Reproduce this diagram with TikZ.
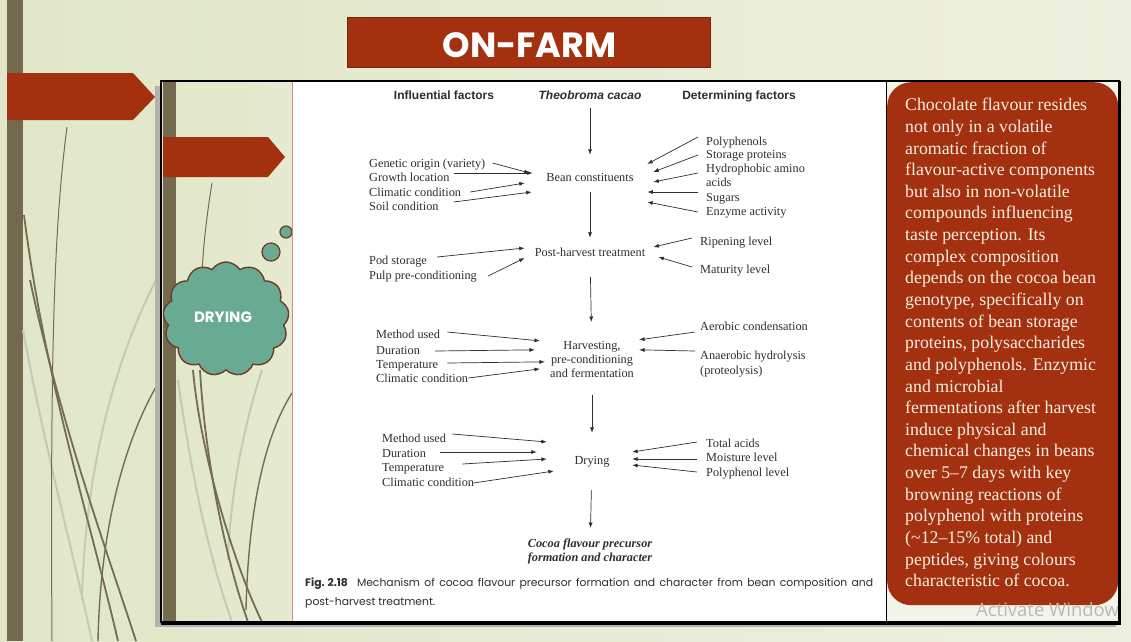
\documentclass[tikz,border=0pt]{standalone}
\usepackage{fontspec}
\setmainfont{Liberation Serif}
\newfontfamily\arialf{Liberation Sans}
\newfontfamily\popf{Poppins}
\newfontfamily\osf{Open Sans}
\usetikzlibrary{arrows.meta,shapes.symbols,calc}
\definecolor{bgA}{HTML}{E1E7C8}
\definecolor{bgB}{HTML}{EEF0DF}
\definecolor{olive}{HTML}{736A4E}
\definecolor{rust}{HTML}{A3310F}
\definecolor{tealc}{HTML}{68AA92}
\definecolor{cloudedge}{HTML}{6E3A2A}
\definecolor{cream}{HTML}{F7EEE2}
\definecolor{figgray}{HTML}{2E2E2E}
\definecolor{grassc}{HTML}{756D52}
\definecolor{grasslight}{HTML}{C5CBB0}
\definecolor{pinkline}{HTML}{D08C80}
\begin{document}
\begin{tikzpicture}[x=1pt,y=-1pt,
  ftxt/.style={font=\fontsize{12.3}{14}\selectfont, text=figgray, inner sep=0, text height=9, text depth=3},
  fmulti/.style={font=\fontsize{12.3}{14}\selectfont, text=figgray, inner sep=0, align=center},
  fhead/.style={font=\arialf\bfseries\fontsize{12}{14}\selectfont, text=figgray, inner sep=0, text height=9, text depth=3},
  arr/.style={draw=figgray, line width=0.7, -{Latex[length=5.5pt,width=4pt]}},
  grass/.style={draw=grassc, line width=1.8},
  grassthin/.style={draw=grassc, line width=1},
  grasspale/.style={draw=grasslight, line width=2}]
\useasboundingbox (0,0) rectangle (1131,641);
% slide background
\shade[left color=bgA, right color=bgB] (0,0) rectangle (1131,641);
\fill[olive] (7,0) rectangle (23,641);
% outer grass
\draw[grasspale] (23,330) .. controls (45,450) and (75,560) .. (92,641);
\draw[grasspale] (156,280) .. controls (110,370) and (85,480) .. (82,600);
\draw[grassthin] (67,127) .. controls (55,220) and (50,330) .. (52,641);
\draw[grass] (24,215) .. controls (45,380) and (90,520) .. (118,641);
\draw[grass] (30,280) .. controls (62,430) and (110,560) .. (136,641);
\draw[grass, line width=1.4] (157,385) .. controls (120,450) and (100,540) .. (98,641);
% big red arrow
\fill[rust] (7,73) -- (133,73) -- (155,97) -- (133,120) -- (7,120) -- cycle;
% title
\node[fill=rust, draw=rust!75!black, line width=0.8, minimum width=363, minimum height=50, inner sep=0] (title) at (528.5,42) {};
\node[text=white, font=\popf\bfseries\fontsize{35}{35}\selectfont, inner sep=0] (titletext) at (529.5,45) {ON-FARM};
% frame shadow
\fill[black!30] (155,86) rectangle (1116,627);
% inner left strip
\shade[left color=bgA, right color=bgA!60!bgB] (161,81) rectangle (292,622);
\fill[olive] (163,81) rectangle (176,622);
\begin{scope}
\clip (161,81) rectangle (292,622);
\draw[grasspale] (178,380) .. controls (192,480) and (210,560) .. (232,622);
\draw[grasspale] (262,370) .. controls (242,430) and (230,500) .. (228,560);
\draw[grassthin] (212,183) .. controls (206,220) and (203,250) .. (202,275);
\draw[grass] (193,370) .. controls (200,450) and (232,560) .. (262,622);
\draw[grass] (200,370) .. controls (205,460) and (226,560) .. (248,622);
\draw[grass, line width=1.4] (292,393) .. controls (262,440) and (248,520) .. (246,610);
\end{scope}
% second red arrow
\fill[rust] (163,137) -- (268,137) -- (285,157) -- (268,177) -- (163,177) -- cycle;
% cloud
\node[cloud, cloud puffs=13, cloud puff arc=115, aspect=1.1, fill=tealc, draw=cloudedge, line width=1.4, minimum width=126, minimum height=114, inner sep=0] (cloud) at (226,319) {};
\draw[fill=tealc, draw=cloudedge, line width=1.2] (271,252) circle (9);
\draw[fill=tealc, draw=cloudedge, line width=1.2] (286,232) circle (6);
\node[text=white, font=\popf\bfseries\fontsize{15}{15}\selectfont, inner sep=0] (drylabel) at (223,317) {DRYING};
% figure area
\fill[white] (292,81) rectangle (886,622);
\draw[pinkline, line width=0.8] (292,81) -- (292,622);
\fill[bgB!70!white] (886,81) rectangle (1118,622);
\draw[black, line width=0.8] (886,81) -- (886,622);
% right text box
\node[fill=rust, rounded corners=24, minimum width=231, minimum height=523, anchor=north west, inner sep=0] (txtbox) at (887,82) {};
\node[anchor=north west, inner sep=0, text=cream, align=left, font=\fontsize{17.8}{21.64}\selectfont] (boxtext) at (905,98) {Chocolate flavour resides\\
not only in a volatile\\
aromatic fraction of\\
flavour-active components\\
but also in non-volatile\\
compounds influencing\\
taste perception. Its\\
complex composition\\
depends on the cocoa bean\\
genotype, specifically on\\
contents of bean storage\\
proteins, polysaccharides\\
and polyphenols. Enzymic\\
and microbial\\
fermentations after harvest\\
induce physical and\\
chemical changes in beans\\
over 5–7 days with key\\
browning reactions of\\
polyphenol with proteins\\
(\symbol{126}{}12–15\% total) and\\
peptides, giving colours\\
characteristic of cocoa.};
\begin{scope}
\clip (886,81) rectangle (1117,622);
\node[anchor=base west, inner sep=0, text=black!28, font=\osf\fontsize{18.5}{18.5}\selectfont] (watermark) at (976,616) {Activate Windows};
\end{scope}
% frame border
\draw[black, line width=1.6] (161,81) rectangle (1119,622);
\draw[black, line width=3] (1119,81) -- (1119,623) -- (161,623);
% headers
\node[fhead, anchor=base] (infl) at (444,99) {Influential factors};
\node[fhead, anchor=base, font=\arialf\bfseries\itshape\fontsize{12}{14}\selectfont] (theo) at (590,99) {Theobroma cacao};
\node[fhead, anchor=base] (determ) at (739,99) {Determining factors};
% central chain
\node[ftxt, anchor=base] (bean) at (590,181) {Bean constituents};
\node[ftxt, anchor=base] (post) at (590,256) {Post-harvest treatment};
\node[fmulti, anchor=north] (harv) at (592,341) {Harvesting,\\pre-conditioning\\and fermentation};
\node[ftxt, anchor=base] (dry) at (592,464) {Drying};
\node[fmulti, anchor=north, font=\bfseries\itshape\fontsize{12.3}{14}\selectfont] (cocoa) at (590,538.5) {Cocoa flavour precursor\\formation and character};
\draw[arr, shorten <=6, shorten >=17] (theo) -- (bean);
\draw[arr, shorten <=8, shorten >=9] (bean) -- (post);
\draw[arr, shorten <=18, shorten >=19] (post) -- (harv);
\draw[arr, shorten <=17, shorten >=22] (harv) -- (dry);
\draw[arr, shorten <=23, shorten >=10.5] (dry) -- (cocoa);
% block 1
\node[ftxt, anchor=base west] (gen) at (369,167) {Genetic origin (variety)};
\node[ftxt, anchor=base west] (gro) at (369,181) {Growth location};
\node[ftxt, anchor=base west] (cli) at (369,196) {Climatic condition};
\node[ftxt, anchor=base west] (soi) at (369,210) {Soil condition};
\node[ftxt, anchor=base west] (poly) at (706,145) {Polyphenols};
\node[ftxt, anchor=base west] (stor) at (706,158) {Storage proteins};
\node[ftxt, anchor=base west] (hyd) at (706,172) {Hydrophobic amino};
\node[ftxt, anchor=base west] (acid) at (706,186) {acids};
\node[ftxt, anchor=base west] (sug) at (706,201) {Sugars};
\node[ftxt, anchor=base west] (enz) at (706,215) {Enzyme activity};
\draw[arr] ([shift={(7,-4)}]gen.base east) -- ([shift={(-16.5,-8)}]bean.base west);
\draw[arr] ([shift={(4,-8)}]gro.base east) -- ([shift={(-13.5,-8)}]bean.base west);
\draw[arr] ([shift={(9,-4)}]cli.base east) -- ([shift={(-21.5,2)}]bean.base west);
\draw[arr] ([shift={(15,-8)}]soi.base east) -- ([shift={(-14.5,11)}]bean.base west);
\draw[arr] ([shift={(-8,-8)}]poly.base west) -- ([shift={(13.5,-17)}]bean.base east);
\draw[arr] ([shift={(-8,-3)}]stor.base west) -- ([shift={(19.5,-9)}]bean.base east);
\draw[arr] ([shift={(-8,1)}]hyd.base west) -- ([shift={(19.5,1)}]bean.base east);
\draw[arr] ([shift={(-8,-9)}]sug.base west) -- ([shift={(13.5,11)}]bean.base east);
\draw[arr] ([shift={(-8,-3)}]enz.base west) -- ([shift={(13.5,21)}]bean.base east);
% block 2
\node[ftxt, anchor=base west] (pod) at (369,264) {Pod storage};
\node[ftxt, anchor=base west] (pulp) at (369,279) {Pulp pre-conditioning};
\node[ftxt, anchor=base west] (rip) at (700,245) {Ripening level};
\node[ftxt, anchor=base west] (mat) at (700,273) {Maturity level};
\draw[arr] ([shift={(10,-7)}]pod.base east) -- ([shift={(-10,-8)}]post.base west);
\draw[arr] ([shift={(11,-3)}]pulp.base east) -- ([shift={(-10,2)}]post.base west);
\draw[arr] ([shift={(-8,-7)}]rip.base west) -- ([shift={(8,-9)}]post.base east);
\draw[arr] ([shift={(-8,-6)}]mat.base west) -- ([shift={(13,1)}]post.base east);
% block 3
\node[ftxt, anchor=base west] (meth1) at (376,338) {Method used};
\node[ftxt, anchor=base west] (dur1) at (376,354) {Duration};
\node[ftxt, anchor=base west] (tem1) at (376,368) {Temperature};
\node[ftxt, anchor=base west] (cli1) at (376,382) {Climatic condition};
\node[ftxt, anchor=base west] (aer) at (700,330) {Aerobic condensation};
\node[ftxt, anchor=base west] (ana) at (700,359) {Anaerobic hydrolysis};
\node[ftxt, anchor=base west] (prot) at (700,374) {(proteolysis)};
\draw[arr] ([shift={(7,-6)}]meth1.base east) -- ([shift={(-10,-18.5)}]harv.west);
\draw[arr] ([shift={(15,-3)}]dur1.base east) -- ([shift={(-15,-9.5)}]harv.west);
\draw[arr] ([shift={(9,-5)}]tem1.base east) -- ([shift={(-5,2.5)}]harv.west);
\draw[arr] ([shift={(0,-4)}]cli1.base east) -- ([shift={(-10,9.5)}]harv.west);
\draw[arr] ([shift={(-5,2)}]aer.base west) -- ([shift={(5,-19.5)}]harv.east);
\draw[arr] ([shift={(-5,-8)}]ana.base west) -- ([shift={(5,-9.5)}]harv.east);
% block 4
\node[ftxt, anchor=base west] (meth2) at (382,442) {Method used};
\node[ftxt, anchor=base west] (dur2) at (382,457) {Duration};
\node[ftxt, anchor=base west] (tem2) at (382,471) {Temperature};
\node[ftxt, anchor=base west] (cli2) at (382,486) {Climatic condition};
\node[ftxt, anchor=base west] (tot) at (706,447) {Total acids};
\node[ftxt, anchor=base west] (moi) at (706,461) {Moisture level};
\node[ftxt, anchor=base west] (pph) at (706,476) {Polyphenol level};
\draw[arr] ([shift={(6,-8)}]meth2.base east) -- ([shift={(-27.5,-22)}]dry.base west);
\draw[arr] ([shift={(14,-5)}]dur2.base east) -- ([shift={(-37.5,-12)}]dry.base west);
\draw[arr] ([shift={(18,-7)}]tem2.base east) -- ([shift={(-27.5,-5)}]dry.base west);
\draw[arr] ([shift={(-1,-3)}]cli2.base east) -- ([shift={(-20.5,7)}]dry.base west);
\draw[arr] ([shift={(-9,-5)}]tot.base west) -- ([shift={(22.5,-12)}]dry.base east);
\draw[arr] ([shift={(-9,-2)}]moi.base west) -- ([shift={(22.5,-5)}]dry.base east);
\draw[arr] ([shift={(-9,-4)}]pph.base west) -- ([shift={(22.5,1)}]dry.base east);
% caption
\node[anchor=base west, inner sep=0, text=figgray, font=\popf\fontsize{10.8}{12}\selectfont] (cap1) at (305,586) {\makebox[568pt][s]{\mbox{\textbf{Fig. 2.18}}\hspace{9pt}Mechanism of cocoa flavour precursor formation and character from bean composition and}};
\node[anchor=base west, inner sep=0, text=figgray, font=\popf\fontsize{10.8}{12}\selectfont] (cap2) at (305,605) {post-harvest treatment.};
\end{tikzpicture}
\end{document}
